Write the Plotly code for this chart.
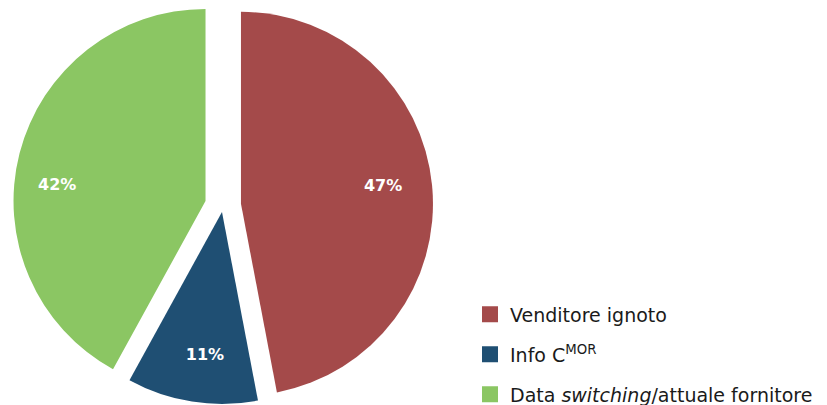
import math
import plotly.graph_objects as go

# ---- data ----
labels = ["Venditore ignoto", "Info C<sup>MOR</sup>", "Data <i>switching</i>/attuale fornitore"]
values = [47, 11, 42]
pct_text = ["47%", "11%", "42%"]

# ---- style ----
colors = ["#A44A4A", "#1F4F73", "#8BC663"]
explode = [0.094, 0.034, 0.094]   # fraction of radius each slice is pulled out
label_hole = [0.492, 0.5, 0.554]   # transparent ring that places each % label radially
label_turn = [-1.9, -2.2, -8.2]    # small angular nudge of each % label (deg)
OFF = 8                            # page body margin of the viewer
W, H = 827 - OFF, 405 - OFF        # figure size so it ends at the window edge
R = 192                            # pie radius in px
CX, CY = 223 - OFF, 205.5 - OFF    # centre of the un-exploded pie, px in figure
FONT = "DejaVu Sans"
CLEAR = "rgba(0,0,0,0)"

fig = go.Figure()

total = float(sum(values))
acc = 0.0
for i in range(len(values)):
    mid = (acc + values[i] / 2.0) / total * 2 * math.pi   # clockwise from 12 o'clock
    acc += values[i]
    cx = CX + explode[i] * R * math.sin(mid)
    cy = CY - explode[i] * R * math.cos(mid)
    dom = dict(x=[(cx - R) / W, (cx + R) / W], y=[1 - (cy + R) / H, 1 - (cy - R) / H])
    slice_colors = [colors[j] if j == i else CLEAR for j in range(len(values))]
    slice_text = [pct_text[j] if j == i else "" for j in range(len(values))]
    # coloured slice
    fig.add_trace(go.Pie(
        labels=labels, values=values,
        textinfo="none", sort=False, direction="clockwise", rotation=0,
        marker=dict(colors=slice_colors, line=dict(width=0)),
        domain=dom, showlegend=False, hoverinfo="skip",
    ))
    # transparent ring carrying the percentage label
    fig.add_trace(go.Pie(
        labels=labels, values=values, hole=label_hole[i],
        text=slice_text, textinfo="text", textposition="inside",
        insidetextorientation="horizontal",
        sort=False, direction="clockwise", rotation=label_turn[i],
        marker=dict(colors=[CLEAR] * len(values), line=dict(width=0)),
        textfont=dict(family=FONT, size=16, color="white", weight="bold"),
        domain=dom, showlegend=False, hoverinfo="skip",
    ))

# legend entries
for i in range(len(values)):
    fig.add_trace(go.Scatter(
        x=[None], y=[None], mode="markers", name=labels[i],
        marker=dict(symbol="square", size=16, color=colors[i]),
        legendgroup="g%d" % i, showlegend=True, hoverinfo="skip",
    ))

fig.update_layout(
    width=W, height=H,
    margin=dict(l=0, r=0, t=0, b=0, autoexpand=False),
    paper_bgcolor="white", plot_bgcolor="white",
    xaxis=dict(visible=False), yaxis=dict(visible=False),
    legend=dict(
        x=(510 - 40 - OFF) / W, xanchor="left", y=1 - 287.3 / H, yanchor="top",
        font=dict(family=FONT, size=19, color="#1a1a1a"),
        traceorder="grouped", tracegroupgap=12.3,
        itemsizing="trace", bgcolor="rgba(0,0,0,0)", borderwidth=0,
    ),
    font=dict(family=FONT),
)

fig.write_html("out.html")
